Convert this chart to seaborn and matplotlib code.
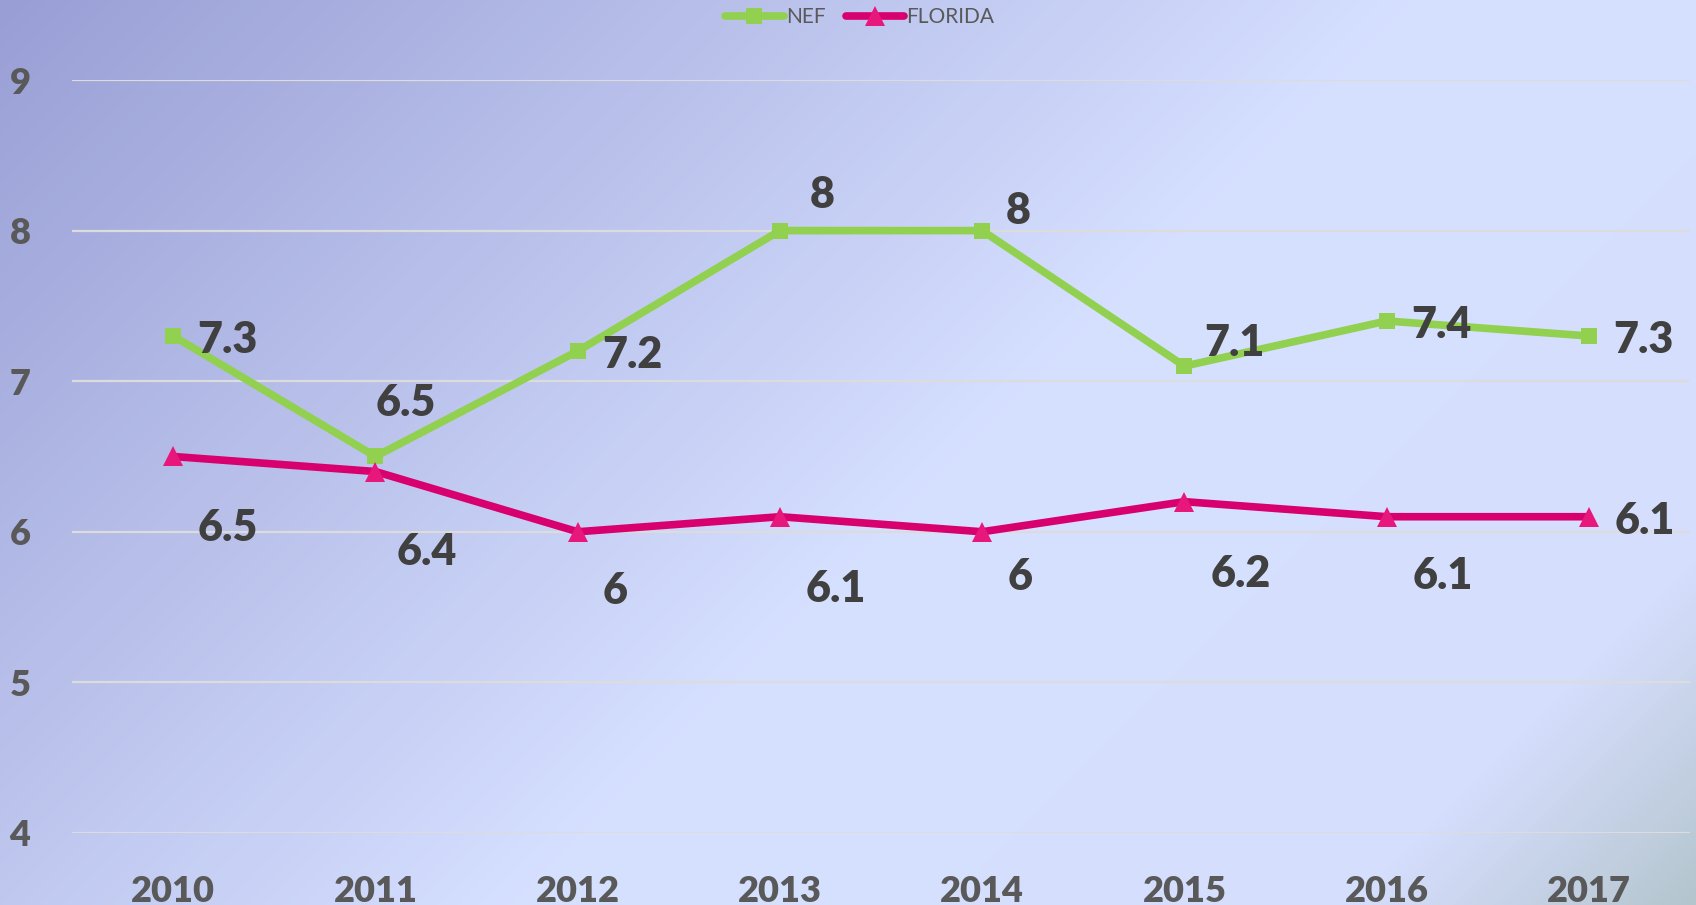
import numpy as np
import pandas as pd
import matplotlib
matplotlib.use('Agg')
import matplotlib.pyplot as plt
from matplotlib.colors import LinearSegmentedColormap
import seaborn as sns

# data
years = ['2010', '2011', '2012', '2013', '2014', '2015', '2016', '2017']
nef = [7.3, 6.5, 7.2, 8, 8, 7.1, 7.4, 7.3]
florida = [6.5, 6.4, 6, 6.1, 6, 6.2, 6.1, 6.1]
yticks = [4, 5, 6, 7, 8, 9]

# label offsets in pixels (dx, dy), screen coords (dy down)
nef_off = [(54, 4), (30, -53), (55, 4), (42, -36), (36, -20), (50, -23), (55, 4), (54, 4)]
fl_off = [(55, 72), (51, 80), (37, 59), (56, 72), (38, 45), (56, 72), (56, 59), (56, 4)]

df = pd.DataFrame({
    'year': years * 2,
    'value': nef + florida,
    'series': ['NEF'] * len(years) + ['FLORIDA'] * len(years),
})

sns.set_theme(style='white')
plt.rcParams['font.family'] = ['Lato', 'DejaVu Sans']

fig = plt.figure(figsize=(16.96, 9.05), dpi=100)

# diagonal gradient background
bg = fig.add_axes([0, 0, 1, 1], zorder=-10)
W, H = 1696, 905
xx, yy = np.meshgrid(np.arange(W), np.arange(H))
t = (xx + yy) / (W + H)
cmap = LinearSegmentedColormap.from_list('bg', [
    (0.0, '#999fd5'),
    (0.55, '#d6e0ff'),
    (0.87, '#d5defd'),
    (1.0, '#b5c5ce'),
])
bg.imshow(t, cmap=cmap, vmin=0, vmax=1, aspect='auto', interpolation='bilinear')
bg.axis('off')

ax = fig.add_axes([0.0425, 0.0796, 0.954, 0.832])
ax.set_facecolor('none')

palette = {'NEF': '#92d050', 'FLORIDA': '#d8006e'}
sns.lineplot(data=df, x='year', y='value', hue='series', style='series',
             markers={'NEF': 's', 'FLORIDA': '^'}, dashes=False,
             palette=palette, linewidth=5.5, markeredgewidth=0,
             ax=ax, legend=True, sort=False)

for line in ax.get_lines():
    if line.get_marker() == 's':
        line.set_markersize(11)
        line.set_markerfacecolor('#92d050')
    elif line.get_marker() == '^':
        line.set_markersize(15)
        line.set_markerfacecolor('#e8177c')

ax.set_xlim(-0.5, len(years) - 0.5)
ax.set_ylim(4, 9)
ax.set_yticks(yticks)
ax.yaxis.grid(True, color='#dcdcdc', linewidth=1.6)
ax.set_axisbelow(True)
for s in ax.spines.values():
    s.set_visible(False)
ax.set_xlabel('')
ax.set_ylabel('')
ax.tick_params(axis='both', length=0, labelsize=26, labelcolor='#595959')
ax.tick_params(axis='y', pad=30)
ax.tick_params(axis='x', pad=30)
for lab in ax.get_xticklabels() + ax.get_yticklabels():
    lab.set_fontweight('heavy')

for vals, offs in ((nef, nef_off), (florida, fl_off)):
    for i, (v, (dx, dy)) in enumerate(zip(vals, offs)):
        ax.annotate(f'{v:g}', (i, v), xytext=(dx, -dy), textcoords='offset pixels',
                    ha='center', va='center', fontsize=31, fontweight='heavy',
                    color='#404040')

handles, labels = ax.get_legend_handles_labels()
ax.get_legend().remove()
leg = fig.legend(handles, labels, loc='center', bbox_to_anchor=(0.507, 0.981),
                 ncol=2, frameon=False, fontsize=15, handlelength=2.8,
                 handletextpad=0.1, columnspacing=1.0)
for txt in leg.get_texts():
    txt.set_color('#595959')
for h in leg.legend_handles:
    h.set_linewidth(5.5)

fig.savefig('out.png', dpi=100)
